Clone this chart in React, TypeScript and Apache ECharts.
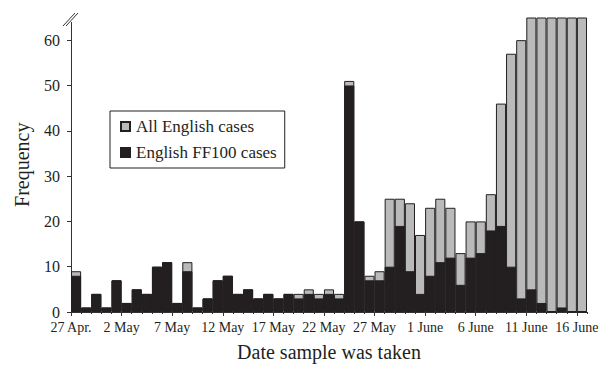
import { useEffect, useRef } from 'react';
import * as echarts from 'echarts';

// One bar per day, 27 Apr. to 16 June (51 days); tick every 5 days at the day's left edge
const tickLabels = ['27 Apr.', '2 May', '7 May', '12 May', '17 May', '22 May', '27 May', '1 June', '6 June', '11 June', '16 June'];
const dayCount = 51;
// Values above the axis cap (65) are truncated at the cap in the original figure
const AXIS_CAP = 65;
const allEnglish = [
  9, 1, 4, 1, 7, 2, 5, 4, 10, 11,
  2, 11, 1, 3, 7, 8, 4, 5, 3, 4,
  3, 4, 4, 5, 4, 5, 4, 51, 20, 8,
  9, 25, 25, 24, 17, 23, 25, 23, 13, 20,
  20, 26, 46, 57, 60, 65, 65, 65, 65, 65, 65,
];
const ff100 = [
  8, 1, 4, 1, 7, 2, 5, 4, 10, 11,
  2, 9, 1, 3, 7, 8, 4, 5, 3, 4,
  3, 4, 3, 4, 3, 4, 3, 50, 20, 7,
  7, 10, 19, 9, 4, 8, 11, 12, 6, 12,
  13, 18, 19, 10, 3, 5, 2, 0, 1, 0, 0,
];
const yTicks = [0, 10, 20, 30, 40, 50, 60];
const seriesNames = ['All English cases', 'English FF100 cases'];

export default function App() {
  const ref = useRef<HTMLDivElement>(null);
  useEffect(() => {
    const chart = echarts.init(ref.current!, null, { renderer: 'svg' });
    const ink = '#231f20';
    const grey = '#bababa';
    const font = 'Liberation Serif';
    const majorTicks = tickLabels.map((_, i) => i * 5);
    const dayTicks = Array.from({ length: dayCount + 1 }, (_, i) => i);
    chart.setOption({
      animation: false,
      backgroundColor: '#ffffff',
      textStyle: { fontFamily: font, color: ink },
      grid: { left: 71, right: 14, top: 17.5, bottom: 53, outerBoundsMode: 'none' },
      legend: {
        data: seriesNames,
        orient: 'vertical',
        left: 110,
        top: 111,
        padding: [7, 8, 7, 10],
        itemGap: 9,
        itemWidth: 9,
        itemHeight: 9,
        icon: 'rect',
        borderColor: ink,
        borderWidth: 1,
        backgroundColor: '#ffffff',
        textStyle: { fontFamily: font, fontSize: 17, color: ink, padding: [0, 0, 0, 1] },
      },
      xAxis: [
        {
          type: 'value',
          min: 0,
          max: dayCount,
          interval: 5,
          name: 'Date sample was taken',
          nameLocation: 'middle',
          nameGap: 30,
          nameTextStyle: { fontFamily: font, fontSize: 20, color: ink },
          axisLine: { show: true, onZero: false, lineStyle: { color: '#333', width: 1 } },
          axisTick: { show: true, customValues: majorTicks, length: 4, lineStyle: { color: '#333' } },
          axisLabel: {
            customValues: majorTicks,
            formatter: (v: number) => tickLabels[Math.round(v / 5)] ?? '',
            fontFamily: font,
            fontSize: 14,
            color: ink,
            margin: 8,
          },
          splitLine: { show: false },
        },
        {
          type: 'value',
          min: 0,
          max: dayCount,
          position: 'bottom',
          axisLine: { show: false },
          axisTick: { show: true, customValues: dayTicks, length: 2, lineStyle: { color: '#333' } },
          axisLabel: { show: false },
          splitLine: { show: false },
        },
      ],
      yAxis: {
        type: 'value',
        min: 0,
        max: AXIS_CAP,
        interval: 10,
        name: 'Frequency',
        nameLocation: 'middle',
        nameGap: 39,
        nameTextStyle: { fontFamily: font, fontSize: 20, color: ink },
        axisLine: { show: true, lineStyle: { color: '#333', width: 1 } },
        axisTick: { show: true, customValues: yTicks, length: 4, lineStyle: { color: '#333' } },
        axisLabel: { customValues: yTicks, fontFamily: font, fontSize: 16, color: ink, margin: 11 },
        splitLine: { show: false },
      },
      series: [
        {
          name: seriesNames[0],
          type: 'bar',
          xAxisIndex: 0,
          barWidth: '100%',
          barGap: '-100%',
          itemStyle: { color: grey, borderColor: ink, borderWidth: 1 },
          data: allEnglish.map((v, i) => [i + 0.5, v]),
        },
        {
          name: seriesNames[1],
          type: 'bar',
          xAxisIndex: 0,
          barWidth: '100%',
          barGap: '-100%',
          itemStyle: { color: ink, borderColor: ink, borderWidth: 1 },
          data: ff100.map((v, i) => [i + 0.5, v]),
        },
      ],
      graphic: [
        { type: 'rect', shape: { x: 66, y: 8, width: 10, height: 14 }, style: { fill: '#ffffff' }, z: 100 },
        { type: 'line', shape: { x1: 63, y1: 26, x2: 75, y2: 13 }, style: { stroke: '#333', lineWidth: 1 }, z: 101 },
        { type: 'line', shape: { x1: 66, y1: 26, x2: 78, y2: 13 }, style: { stroke: '#333', lineWidth: 1 }, z: 101 },
      ],
    });
    return () => chart.dispose();
  }, []);
  return (
    <div
      ref={ref}
      style={{ position: 'fixed', left: 0, top: 0, width: 601, height: 365, background: '#ffffff' }}
    />
  );
}
